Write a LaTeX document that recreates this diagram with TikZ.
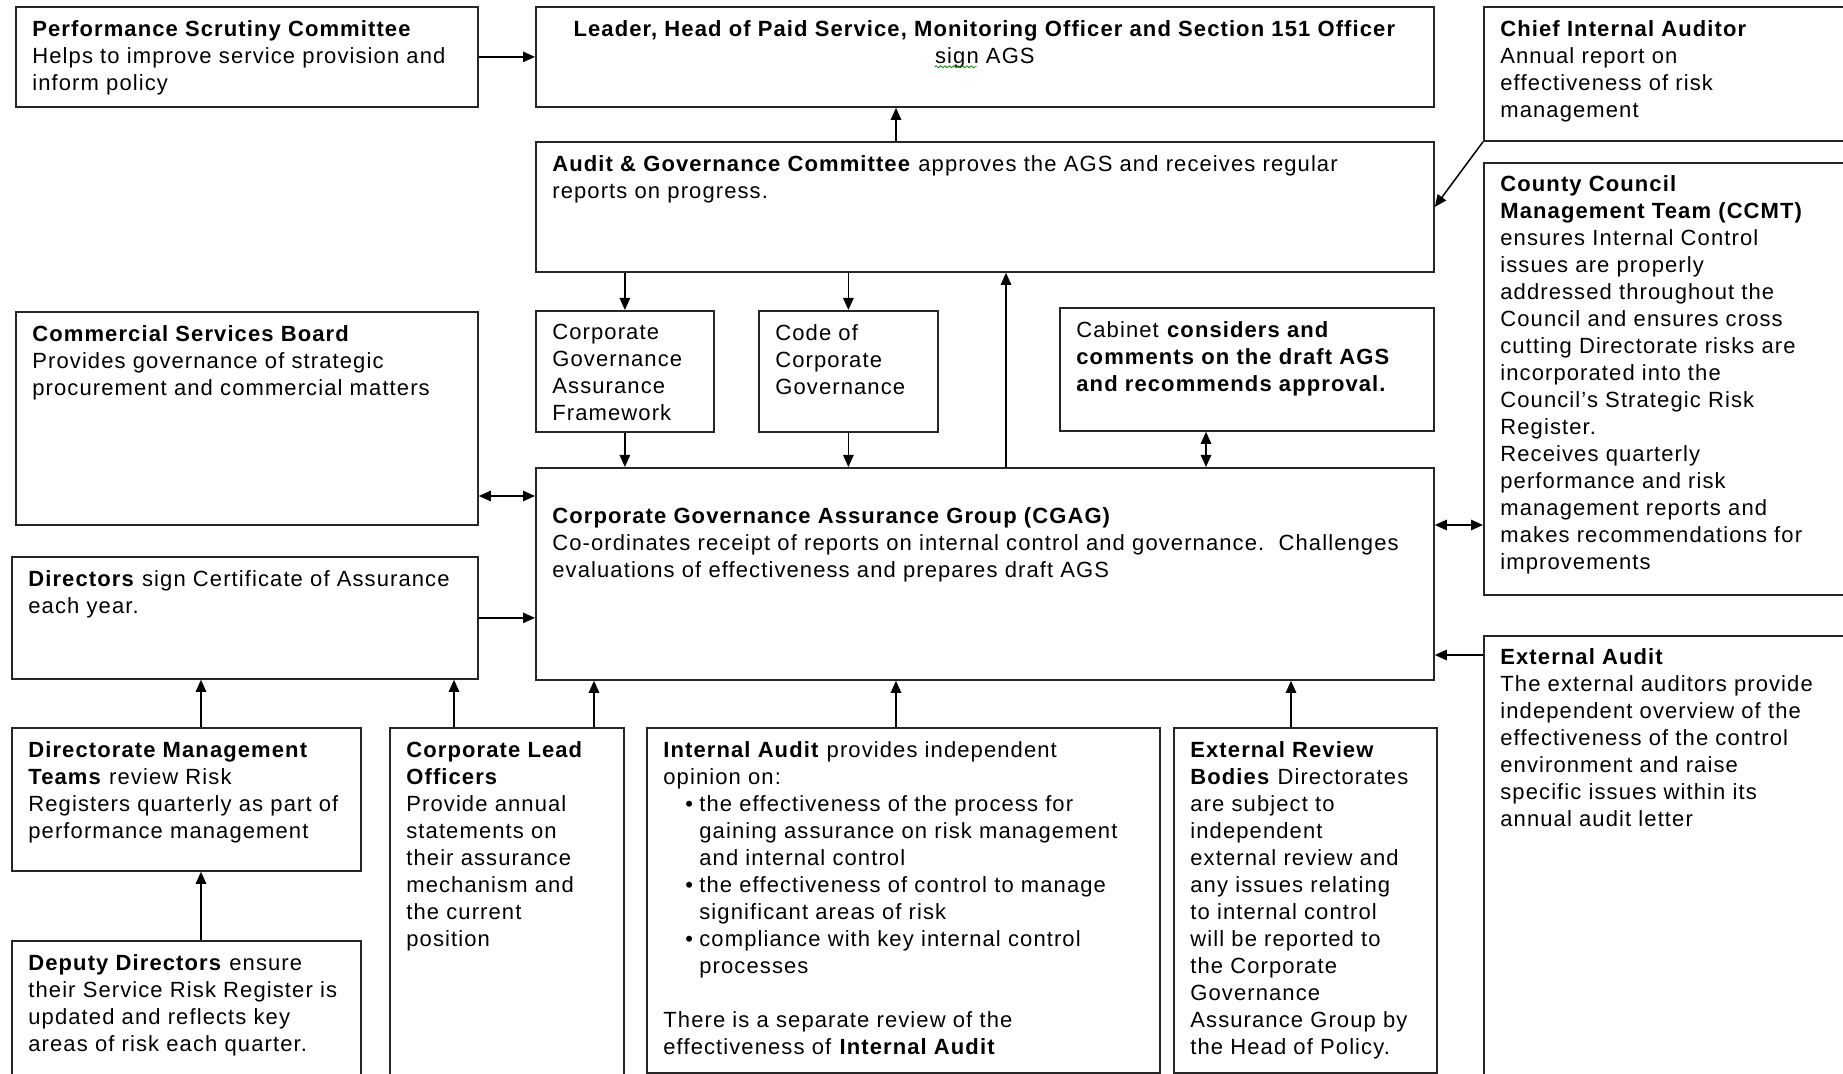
\documentclass[tikz,border=0pt]{standalone}
\usepackage{fontspec}
\setmainfont[LetterSpace=5]{Liberation Sans}
\usetikzlibrary{arrows.meta,decorations.pathmorphing}
\newcommand\fs{\fontsize{11pt}{13.5pt}\selectfont}
\newcommand\mybox[5]{\node[box,minimum width={(#4-#2)/2},minimum height={(#5-#3)/2}] (#1) at (#2,#3) {};}
\newcommand\bul{\hspace*{11pt}\makebox[7pt][l]{\textbullet}}
\newcommand\ind{\hspace*{18pt}}
\begin{document}
\begin{tikzpicture}[x=0.5pt,y=-0.5pt,
  box/.style={draw=black!85,line width=0.9pt,inner sep=0pt,anchor=north west},
  txt/.style={inner sep=0pt,anchor=north west,align=left,font=\fs,execute at begin node=\strut},
  arr/.style={line width=0.75pt,-{Triangle[length=6pt,width=5.2pt]}},
  darr/.style={line width=0.75pt,{Triangle[length=6pt,width=5.2pt]}-{Triangle[length=6pt,width=5.2pt]}}]
\useasboundingbox (0,0) rectangle (1843,1074);
\clip (0,0) rectangle (1843,1074);
\fill[white] (0,0) rectangle (1843,1074);

% boxes
\mybox{perf}{15}{6}{477}{106}
\mybox{leader}{535}{6}{1433}{106}
\mybox{chief}{1483}{6}{1870}{140}
\mybox{ag}{535}{141}{1433}{271}
\mybox{ccmt}{1483}{162}{1870}{594}
\mybox{csb}{15}{311}{477}{524}
\mybox{cgaf}{535}{310}{713}{431}
\mybox{cocg}{758}{310}{937}{431}
\mybox{cab}{1059}{307}{1433}{430}
\mybox{cgag}{535}{467}{1433}{679}
\mybox{dirs}{11}{556}{477}{678}
\mybox{ea}{1483}{635}{1870}{1110}
\mybox{dmt}{11}{727}{360}{870}
\mybox{dep}{11}{940}{360}{1110}
\mybox{clo}{389}{727}{623}{1110}
\mybox{ia}{646}{727}{1159}{1072}
\mybox{erb}{1173}{727}{1436}{1072}

% texts
\node[txt] (tperf) at ([shift={(17,14)}]perf.north west) {\textbf{Performance Scrutiny Committee}\\Helps to improve service provision and\\inform policy};
\node[txt,anchor=north,align=center] (tlead) at ([shift={(0,11)}]leader.north) {\textbf{Leader, Head of Paid Service, Monitoring Officer and Section 151 Officer}};
\node[txt,anchor=north,align=center] (tsign) at ([shift={(0,27)}]tlead.north) {sign AGS};
\draw[green!55!black,line width=0.4pt,decorate,decoration={snake,amplitude=0.5pt,segment length=2.2pt}] ([shift={(0,-5)}]tsign.south west) -- ([shift={(42,-5)}]tsign.south west);
\node[txt] (tchief) at ([shift={(17,14)}]chief.north west) {\textbf{Chief Internal Auditor}\\Annual report on\\effectiveness of risk\\management};
\node[txt] (tag) at ([shift={(17,14)}]ag.north west) {\textbf{Audit \& Governance Committee} approves the AGS and receives regular\\reports on progress.};
\node[txt] (tccmt) at ([shift={(17,13)}]ccmt.north west) {\textbf{County Council}\\\textbf{Management Team (CCMT)}\\ensures Internal Control\\issues are properly\\addressed throughout the\\Council and ensures cross\\cutting Directorate risks are\\incorporated into the\\Council’s Strategic Risk\\Register.\\Receives quarterly\\performance and risk\\management reports and\\makes recommendations for\\improvements};
\node[txt] (tcsb) at ([shift={(17,14)}]csb.north west) {\textbf{Commercial Services Board}\\Provides governance of strategic\\procurement and commercial matters};
\node[txt] (tcgaf) at ([shift={(17,14)}]cgaf.north west) {Corporate\\Governance\\Assurance\\Framework};
\node[txt] (tcocg) at ([shift={(17,14)}]cocg.north west) {Code of\\Corporate\\Governance};
\node[txt] (tcab) at ([shift={(17,14)}]cab.north west) {Cabinet \textbf{considers and}\\\textbf{comments on the draft AGS}\\\textbf{and recommends approval.}};
\node[txt] (tcgag) at ([shift={(17,40)}]cgag.north west) {\textbf{Corporate Governance Assurance Group (CGAG)}\\Co-ordinates receipt of reports on internal control and governance.\ \ Challenges\\evaluations of effectiveness and prepares draft AGS};
\node[txt] (tdirs) at ([shift={(17,14)}]dirs.north west) {\textbf{Directors} sign Certificate of Assurance\\each year.};
\node[txt] (tea) at ([shift={(17,13)}]ea.north west) {\textbf{External Audit}\\The external auditors provide\\independent overview of the\\effectiveness of the control\\environment and raise\\specific issues within its\\annual audit letter};
\node[txt] (tdmt) at ([shift={(17,14)}]dmt.north west) {\textbf{Directorate Management}\\\textbf{Teams} review Risk\\Registers quarterly as part of\\performance management};
\node[txt] (tdep) at ([shift={(17,14)}]dep.north west) {\textbf{Deputy Directors} ensure\\their Service Risk Register is\\updated and reflects key\\areas of risk each quarter.};
\node[txt] (tclo) at ([shift={(17,14)}]clo.north west) {\textbf{Corporate Lead}\\\textbf{Officers}\\Provide annual\\statements on\\their assurance\\mechanism and\\the current\\position};
\node[txt] (tia) at ([shift={(17,14)}]ia.north west) {\textbf{Internal Audit} provides independent\\opinion on:\\\bul the effectiveness of the process for\\\ind gaining assurance on risk management\\\ind and internal control\\\bul the effectiveness of control to manage\\\ind significant areas of risk\\\bul compliance with key internal control\\\ind processes\\[13.5pt]There is a separate review of the\\effectiveness of \textbf{Internal Audit}};
\node[txt] (terb) at ([shift={(17,14)}]erb.north west) {\textbf{External Review}\\\textbf{Bodies} Directorates\\are subject to\\independent\\external review and\\any issues relating\\to internal control\\will be reported to\\the Corporate\\Governance\\Assurance Group by\\the Head of Policy.};

% connectors
\coordinate (xA) at (896,0);
\coordinate (xB) at (1006,0);
\coordinate (xC) at (1206,0);
\coordinate (yD) at (0,496);
\coordinate (yE) at (0,525);
\coordinate (yF) at (0,655);
\coordinate (xG) at (201,0);
\coordinate (xH) at (454,0);
\coordinate (xI) at (594,0);
\coordinate (xJ) at (1291,0);
\draw[arr] (perf.east) -- (leader.west);
\draw[arr] (ag.north -| xA) -- (leader.south -| xA);
\draw[arr] (chief.south west) -- (ag.east);
\draw[arr] (ag.south -| cgaf.north) -- (cgaf.north);
\draw[arr] (ag.south -| cocg.north) -- (cocg.north);
\draw[arr] (cgaf.south) -- (cgag.north -| cgaf.south);
\draw[arr] (cocg.south) -- (cgag.north -| cocg.south);
\draw[arr] (cgag.north -| xB) -- (ag.south -| xB);
\draw[darr] (cab.south -| xC) -- (cgag.north -| xC);
\draw[darr] (csb.east |- yD) -- (cgag.west |- yD);
\draw[arr] (dirs.east) -- (cgag.west |- dirs.east);
\draw[darr] (cgag.east |- yE) -- (ccmt.west |- yE);
\draw[arr] (ea.west |- yF) -- (cgag.east |- yF);
\draw[arr] (dmt.north -| xG) -- (dirs.south -| xG);
\draw[arr] (dep.north -| xG) -- (dmt.south -| xG);
\draw[arr] (clo.north -| xH) -- (dirs.south -| xH);
\draw[arr] (clo.north -| xI) -- (cgag.south -| xI);
\draw[arr] (ia.north -| xA) -- (cgag.south -| xA);
\draw[arr] (erb.north -| xJ) -- (cgag.south -| xJ);
\end{tikzpicture}
\end{document}
